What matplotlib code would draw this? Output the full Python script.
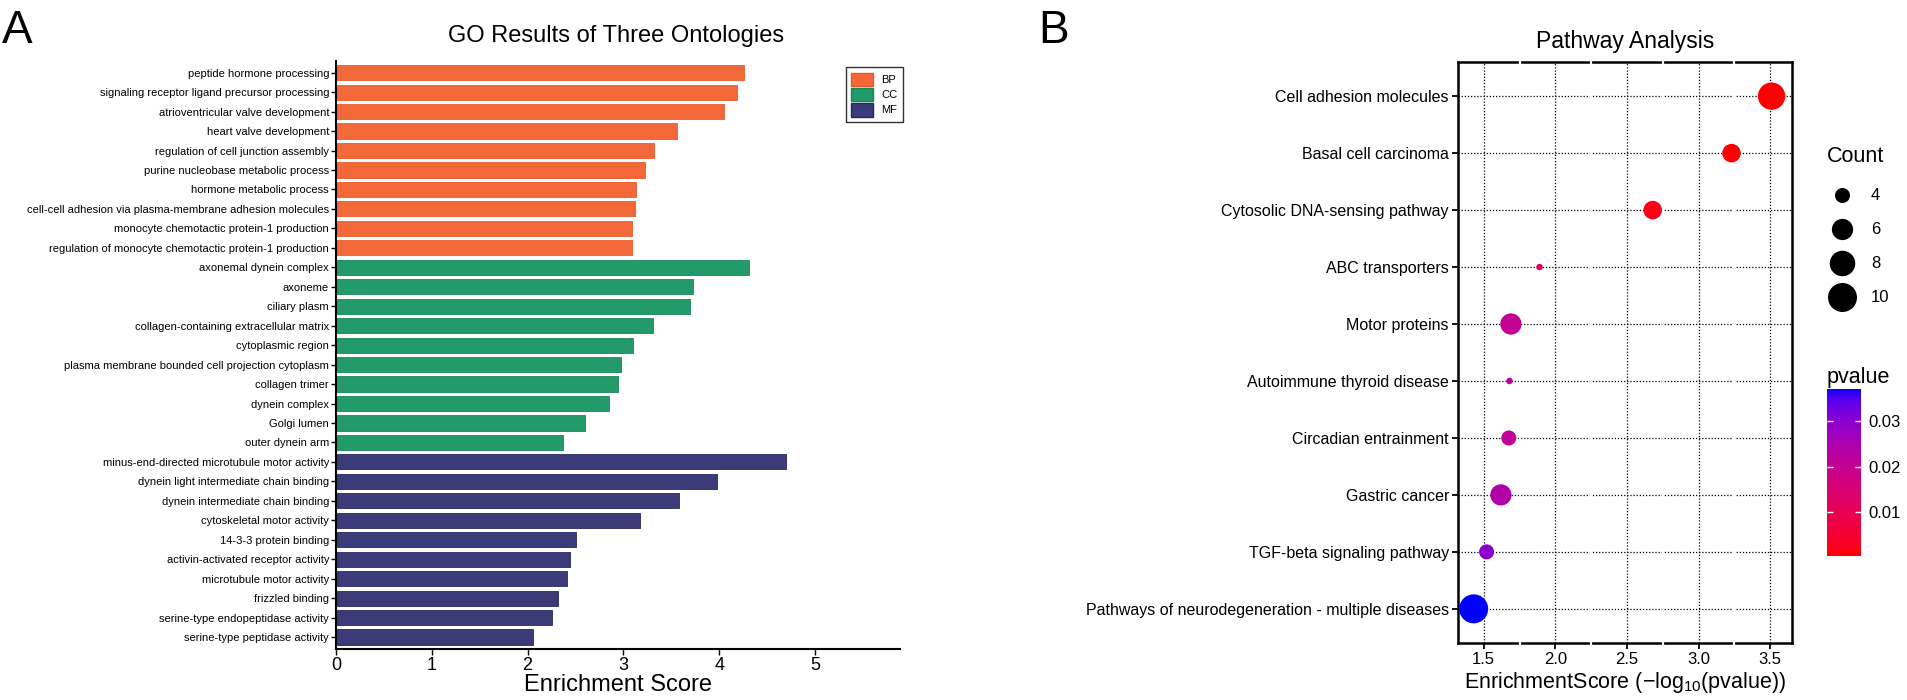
import numpy as np
import matplotlib
matplotlib.use("Agg")
import matplotlib.pyplot as plt
from matplotlib.colors import LinearSegmentedColormap, Normalize
from matplotlib.patches import Patch
from matplotlib.cm import ScalarMappable

plt.rcParams['font.family'] = ['Liberation Sans', 'DejaVu Sans']
plt.rcParams['mathtext.fontset'] = 'custom'
plt.rcParams['mathtext.rm'] = 'Liberation Sans'
plt.rcParams['mathtext.default'] = 'regular'

# ---------------- data: panel A ----------------
go_terms = [
    "peptide hormone processing",
    "signaling receptor ligand precursor processing",
    "atrioventricular valve development",
    "heart valve development",
    "regulation of cell junction assembly",
    "purine nucleobase metabolic process",
    "hormone metabolic process",
    "cell-cell adhesion via plasma-membrane adhesion molecules",
    "monocyte chemotactic protein-1 production",
    "regulation of monocyte chemotactic protein-1 production",
    "axonemal dynein complex",
    "axoneme",
    "ciliary plasm",
    "collagen-containing extracellular matrix",
    "cytoplasmic region",
    "plasma membrane bounded cell projection cytoplasm",
    "collagen trimer",
    "dynein complex",
    "Golgi lumen",
    "outer dynein arm",
    "minus-end-directed microtubule motor activity",
    "dynein light intermediate chain binding",
    "dynein intermediate chain binding",
    "cytoskeletal motor activity",
    "14-3-3 protein binding",
    "activin-activated receptor activity",
    "microtubule motor activity",
    "frizzled binding",
    "serine-type endopeptidase activity",
    "serine-type peptidase activity",
]
go_scores = [4.26, 4.19, 4.05, 3.56, 3.32, 3.23, 3.13, 3.12, 3.09, 3.09,
             4.31, 3.73, 3.69, 3.31, 3.10, 2.98, 2.94, 2.85, 2.60, 2.37,
             4.70, 3.98, 3.58, 3.17, 2.50, 2.44, 2.41, 2.32, 2.25, 2.06]
go_ontology = ["BP"] * 10 + ["CC"] * 10 + ["MF"] * 10
ontology_names = ["BP", "CC", "MF"]
ontology_colors = {"BP": "#F36838", "CC": "#229A6A", "MF": "#3A3B78"}
ontology_edges = {"BP": "#E85A2A", "CC": "#17855A", "MF": "#27275F"}
go_xticks = [0, 1, 2, 3, 4, 5]

# ---------------- data: panel B ----------------
kegg_terms = [
    "Cell adhesion molecules",
    "Basal cell carcinoma",
    "Cytosolic DNA-sensing pathway",
    "ABC transporters",
    "Motor proteins",
    "Autoimmune thyroid disease",
    "Circadian entrainment",
    "Gastric cancer",
    "TGF-beta signaling pathway",
    "Pathways of neurodegeneration - multiple diseases",
]
kegg_score = [3.51, 3.23, 2.68, 1.89, 1.69, 1.68, 1.675, 1.62, 1.52, 1.43]
kegg_count = [9, 5, 5, 3, 6, 3, 4, 6, 4, 10]
kegg_xticks = [1.5, 2.0, 2.5, 3.0, 3.5]
count_breaks = [4, 6, 8, 10]
pvalue_breaks = [0.01, 0.02, 0.03]

# ---------------- helpers ----------------
W, H = 1908, 700
fig = plt.figure(figsize=(W / 100, H / 100), dpi=100)


def box(x0, y0, x1, y1):
    return [x0 / W, 1 - y1 / H, (x1 - x0) / W, (y1 - y0) / H]


_M = np.array([[0.4124, 0.3576, 0.1805], [0.2126, 0.7152, 0.0722], [0.0193, 0.1192, 0.9505]])
_WP = np.array([0.95047, 1.0, 1.08883])


def srgb_to_lab(rgb):
    rgb = np.asarray(rgb, float)
    lin = np.where(rgb <= 0.04045, rgb / 12.92, ((rgb + 0.055) / 1.055) ** 2.4)
    t = (_M @ lin) / _WP
    f = np.where(t > (6 / 29) ** 3, np.cbrt(t), t / (3 * (6 / 29) ** 2) + 4 / 29)
    return np.array([116 * f[1] - 16, 500 * (f[0] - f[1]), 200 * (f[1] - f[2])])


def lab_to_srgb(lab):
    L, a, b = lab
    fy = (L + 16) / 116
    f = np.array([fy + a / 500, fy, fy - b / 200])
    t = np.where(f > 6 / 29, f ** 3, 3 * (6 / 29) ** 2 * (f - 4 / 29))
    lin = np.clip(np.linalg.inv(_M) @ (t * _WP), 0, 1)
    rgb = np.where(lin <= 0.0031308, 12.92 * lin, 1.055 * lin ** (1 / 2.4) - 0.055)
    return np.clip(rgb, 0, 1)


lab_lo = srgb_to_lab([1, 0, 0])
lab_hi = srgb_to_lab([0, 0, 1])
stops = [lab_to_srgb(lab_lo + (lab_hi - lab_lo) * f) for f in np.linspace(0, 1, 64)]
cmap = LinearSegmentedColormap.from_list("redblue_lab", stops)

# ---------------- panel A ----------------
ax1 = fig.add_axes(box(336, 61, 900, 648.7))
ypos = np.arange(len(go_terms))
ax1.barh(ypos, go_scores, height=0.78,
         color=[ontology_colors[o] for o in go_ontology],
         edgecolor=[ontology_edges[o] for o in go_ontology], linewidth=0.6)
ax1.set_ylim(len(go_terms) - 0.4, -0.6)
ax1.set_xlim(0, 5.887)
ax1.set_yticks(ypos)
ax1.set_yticklabels(go_terms, fontsize=8)
ax1.set_xticks(go_xticks)
ax1.set_xticklabels([str(t) for t in go_xticks], fontsize=13)
ax1.tick_params(axis='y', length=3.5, width=1, pad=1.5, colors='black')
ax1.tick_params(axis='x', length=4, width=1, pad=2, colors='black')
for s in ['top', 'right']:
    ax1.spines[s].set_visible(False)
for s in ['left', 'bottom']:
    ax1.spines[s].set_linewidth(1.5)
ax1.set_xlabel("Enrichment Score", fontsize=17, labelpad=0)
fig.text(616 / W, 1 - 42 / H, "GO Results of Three Ontologies", fontsize=17,
         ha='center', va='baseline')
handles = [Patch(facecolor=ontology_colors[o], edgecolor=ontology_edges[o], label=o)
           for o in ontology_names]
leg = ax1.legend(handles=handles, loc='upper right',
                 bbox_to_anchor=(903 / W, 1 - 67 / H), bbox_transform=fig.transFigure,
                 fontsize=8, frameon=True, fancybox=False, edgecolor='black',
                 handlelength=2.0, handleheight=1.5, labelspacing=0.15,
                 handletextpad=0.7, borderpad=0.5, borderaxespad=0)
leg.get_frame().set_linewidth(1.0)

fig.text(2 / W, 1 - 43 / H, "A", fontsize=33, ha='left', va='baseline')
fig.text(1038 / W, 1 - 43 / H, "B", fontsize=33, ha='left', va='baseline')

# ---------------- panel B ----------------
ax2 = fig.add_axes(box(1458, 62, 1791.5, 643))
kpos = np.arange(len(kegg_terms))
pvals = 10.0 ** (-np.array(kegg_score))
norm = Normalize(vmin=pvals.min(), vmax=pvals.max())
cmin, cmax = min(kegg_count), max(kegg_count)


def size_px(c):
    c = np.asarray(c, float)
    return 6.5 + (29 - 6.5) * np.sqrt((c - cmin) / (cmax - cmin))


ax2.scatter(kegg_score, kpos, s=(size_px(kegg_count) * 0.72) ** 2,
            c=cmap(norm(pvals)), linewidths=0, zorder=5)
ax2.set_xlim(1.3205, 3.649)
ax2.set_ylim(len(kegg_terms) - 0.4, -0.6)
ax2.set_yticks(kpos)
ax2.set_yticklabels(kegg_terms, fontsize=11.5)
ax2.set_xticks(kegg_xticks)
ax2.set_xticklabels([f"{t:.1f}" for t in kegg_xticks], fontsize=12)
ax2.grid(True, linestyle=(0, (1, 1.5)), color='black', linewidth=0.9)
ax2.set_axisbelow(True)
ax2.tick_params(axis='both', length=4.5, width=1.3, pad=2, colors='black')
for s in ax2.spines.values():
    s.set_linewidth(1.8)
# small breaks of the frame at the minor positions
minor = [1.75, 2.25, 2.75, 3.25]
ax2.vlines(minor, len(kegg_terms) - 0.4 + 0.08, -0.6 - 0.08, colors='white',
           linewidth=1.6, zorder=3, clip_on=False)
ax2.set_xlabel("EnrichmentScore (\u2212log$_{10}$(pvalue))", fontsize=15.5, labelpad=2)
fig.text(1625 / W, 1 - 48 / H, "Pathway Analysis", fontsize=16.5, ha='center', va='baseline')

# size legend
lax = fig.add_axes([0, 0, 1, 1], zorder=-1)
lax.set_xlim(0, W)
lax.set_ylim(H, 0)
lax.axis('off')
fig.text(1827 / W, 1 - 157 / H, "Count", fontsize=15.5, ha='left', va='center')
for i, c in enumerate(count_breaks):
    yk = 195 + i * 34
    lax.scatter([1842], [yk], s=(size_px(c) * 0.72) ** 2, color='black', linewidths=0)
    lax.text(1871, yk, str(c), fontsize=12, ha='left', va='center')

# colorbar
fig.text(1827 / W, 1 - 377 / H, "pvalue", fontsize=15.5, ha='left', va='center')
cax = fig.add_axes(box(1827, 389, 1861, 556))
sm = ScalarMappable(norm=norm, cmap=cmap)
cb = fig.colorbar(sm, cax=cax, ticks=pvalue_breaks)
cb.outline.set_visible(False)
cb.ax.set_yticklabels([f"{t:.2f}" for t in pvalue_breaks], fontsize=12)
cb.ax.tick_params(direction='in', colors='white', length=4, width=1, left=True, right=True,
                  labelcolor='black', pad=5)

fig.savefig("out.png", dpi=100)
